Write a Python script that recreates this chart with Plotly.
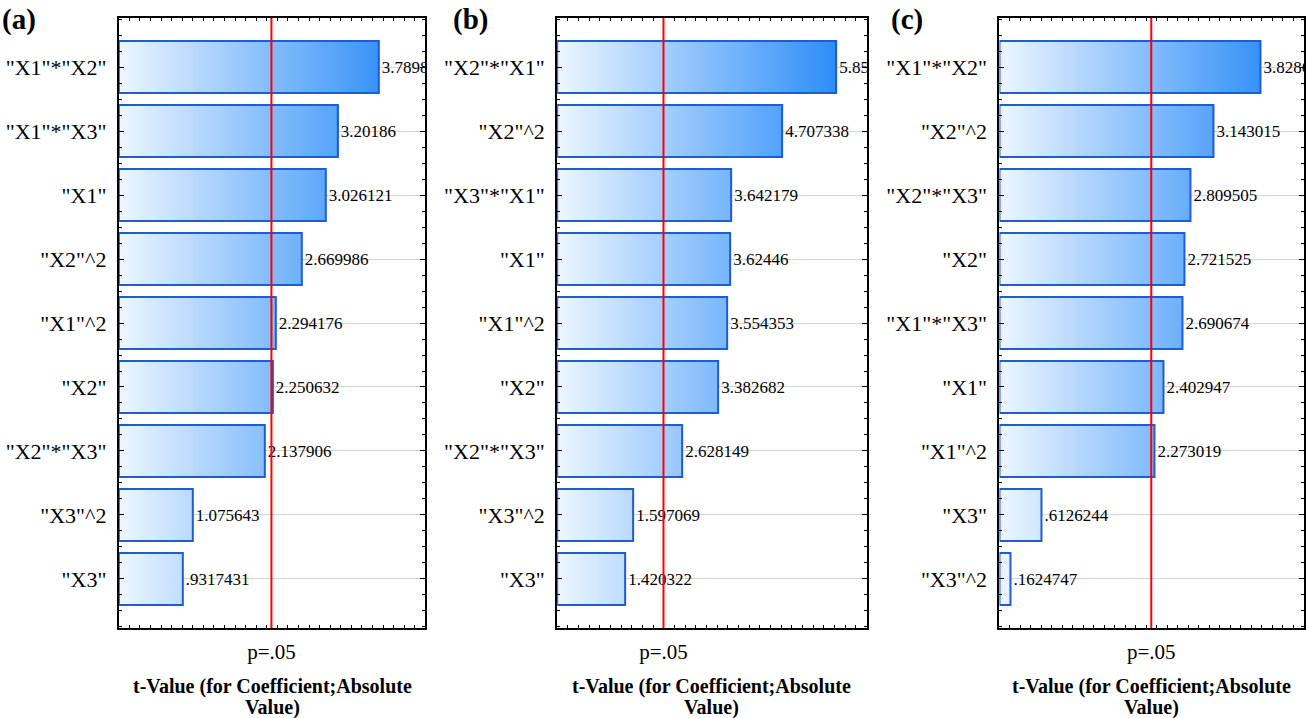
import plotly.graph_objects as go

# Pareto charts of standardized effects for three responses
T_CRIT = 2.228  # two-sided t critical value, p = .05

terms_a = ['"X1"*"X2"', '"X1"*"X3"', '"X1"', '"X2"^2', '"X1"^2', '"X2"', '"X2"*"X3"', '"X3"^2', '"X3"']
tvals_a = [3.7898, 3.20186, 3.026121, 2.669986, 2.294176, 2.250632, 2.137906, 1.075643, 0.9317431]

terms_b = ['"X2"*"X1"', '"X2"^2', '"X3"*"X1"', '"X1"', '"X1"^2', '"X2"', '"X2"*"X3"', '"X3"^2', '"X3"']
tvals_b = [5.85, 4.707338, 3.642179, 3.62446, 3.554353, 3.382682, 2.628149, 1.597069, 1.420322]

terms_c = ['"X1"*"X2"', '"X2"^2', '"X2"*"X3"', '"X2"', '"X1"*"X3"', '"X1"', '"X1"^2', '"X3"', '"X3"^2']
tvals_c = [3.8286, 3.143015, 2.809505, 2.721525, 2.690674, 2.402947, 2.273019, 0.6126244, 0.1624747]

panel_tags = ["(a)", "(b)", "(c)"]
axis_max = [4.475, 6.485, 4.47]

W, H = 1306, 718
x_px = [(119, 426), (558, 868), (1001, 1306)]
tag_px = [0, 452, 890]
y_top, y_bot = 18, 628

SERIF = "Liberation Serif, Times New Roman, serif"
LIGHT = (238, 246, 255)
DEEP = (24, 130, 247)
OUTLINE = "#1f5bd1"
N_STEPS = 70


def shade(f):
    f = min(max(f, 0.0), 1.0)
    r, g, b = (round(a + (c - a) * f) for a, c in zip(LIGHT, DEEP))
    return f"rgb({r},{g},{b})"


def fmt(v):
    s = f"{v:.7g}"
    return s[1:] if s.startswith("0.") else s


fig = go.Figure()
panels = [(terms_a, tvals_a), (terms_b, tvals_b), (terms_c, tvals_c)]

for p, (terms, tvals) in enumerate(panels):
    xa = "x" if p == 0 else f"x{p + 1}"
    ya = "y" if p == 0 else f"y{p + 1}"
    xmax = axis_max[p]
    pos = list(range(len(terms)))
    step = xmax / N_STEPS

    # horizontal colour gradient: each layer starts further right and
    # paints over the previous one up to the bar's end
    for k in range(N_STEPS):
        start = k * step
        ys = [i for i, v in zip(pos, tvals) if v > start]
        if not ys:
            break
        fig.add_trace(go.Bar(
            orientation="h", y=ys, x=[tvals[i] - start for i in ys],
            base=[start] * len(ys), width=0.8,
            marker=dict(color=shade((start + step / 2) / xmax), line=dict(width=0)),
            xaxis=xa, yaxis=ya, hoverinfo="skip", showlegend=False,
        ))

    # bar outlines with the t-value labels
    fig.add_trace(go.Bar(
        orientation="h", y=pos, x=tvals, base=[0] * len(tvals), width=0.8,
        marker=dict(color="rgba(0,0,0,0)", line=dict(color=OUTLINE, width=2)),
        text=[fmt(v) for v in tvals], textposition="outside",
        textfont=dict(family=SERIF, size=17, color="black"),
        constraintext="none", cliponaxis=True,
        xaxis=xa, yaxis=ya, showlegend=False,
    ))

    x0, x1 = x_px[p]
    dom_x = [x0 / W, x1 / W]
    dom_y = [(H - y_bot) / H, (H - y_top) / H]
    frame = dict(showline=True, linecolor="black", linewidth=2, mirror="allticks")

    fig.layout[("xaxis" if p == 0 else f"xaxis{p + 1}")] = dict(
        domain=dom_x, anchor=ya, range=[0, xmax], zeroline=False, showgrid=False,
        tickmode="array", tickvals=[T_CRIT], ticktext=["p=.05"],
        ticks="inside", ticklen=4, tickcolor="black", ticklabelstandoff=4,
        tickfont=dict(family=SERIF, size=21, color="black"),
        minor=dict(tickmode="linear", tick0=0, dtick=xmax / 29, ticks="inside",
                   ticklen=3, tickcolor="black"),
        **frame,
    )
    fig.layout[("yaxis" if p == 0 else f"yaxis{p + 1}")] = dict(
        domain=dom_y, anchor=xa, range=[len(terms) - 1 + 0.766, -0.766],
        tickmode="array", tickvals=pos, ticktext=terms,
        ticks="inside", ticklen=5, tickcolor="black",
        showgrid=True, gridcolor="#d4d4d4", gridwidth=1, zeroline=False,
        tickfont=dict(family=SERIF, size=22, color="black"), ticklabelstandoff=6,
        minor=dict(tickmode="linear", tick0=0, dtick=0.25, ticks="inside",
                   ticklen=3, tickcolor="black", showgrid=False),
        **frame,
    )

    # significance threshold
    fig.add_shape(type="line", xref=xa, yref=f"{ya} domain", x0=T_CRIT, x1=T_CRIT,
                  y0=0, y1=1, line=dict(color="#ff0000", width=2))

    # panel tag and axis title
    fig.add_annotation(text=f"<b>{panel_tags[p]}</b>", xref="paper", yref="paper",
                       x=tag_px[p] / W, y=1 - 1 / H, xanchor="left", yanchor="top",
                       showarrow=False, font=dict(family=SERIF, size=29, color="black"))
    cx = (x0 + x1) / 2 / W
    for line, yc in (("t-Value (for Coefficient;Absolute", 686), ("Value)", 707)):
        fig.add_annotation(text=f"<b>{line}</b>", xref="paper", yref="paper",
                           x=cx, y=1 - yc / H, xanchor="center", yanchor="middle",
                           showarrow=False, font=dict(family=SERIF, size=20, color="black"))

fig.update_layout(
    width=W, height=H, barmode="overlay", bargap=0,
    margin=dict(l=0, r=0, t=0, b=0),
    paper_bgcolor="white", plot_bgcolor="white",
)

fig.write_html("out.html")
